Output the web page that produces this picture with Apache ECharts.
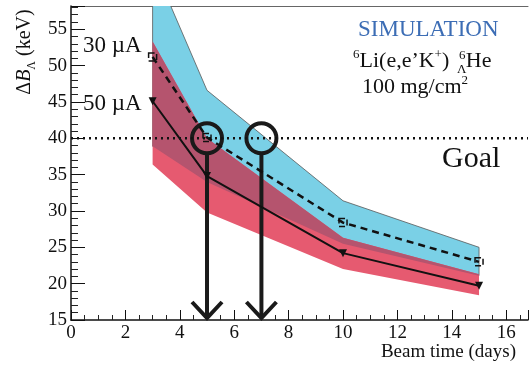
<!DOCTYPE html>
<html>
<head>
<meta charset="utf-8">
<script src="https://cdn.jsdelivr.net/npm/echarts@6/dist/echarts.min.js"></script>
<style>
  html, body { margin: 0; padding: 0; background: #fff; }
  #chart { width: 530px; height: 372px; }
</style>
</head>
<body>
<div id="chart"></div>
<script>
var myChart = echarts.init(document.getElementById("chart"));

// beam time points (days)
var days = [3, 5, 10, 15];
// 30 uA : central values and band
var res30 = [51.2, 40.1, 28.4, 23.0];
var band30Hi = [64.0, 46.6, 31.4, 25.0];
var band30Lo = [38.9, 34.0, 25.5, 21.1];
// 50 uA : central values and band
var res50 = [45.1, 34.8, 24.2, 19.7];
var band50Hi = [53.3, 40.0, 26.3, 21.3];
var band50Lo = [36.4, 29.8, 22.0, 18.4];
// goal resolution and the days where it is reached
var goal = 40;
var goalDays = [5, 7];

var xMin = 0, xMax = 16.8, yMin = 15, yMax = 58.2;
var serif = "Liberation Serif";

// overlap of both bands
var overHi = [], overLo = [];
for (var i = 0; i < days.length; i++) {
    overHi.push(Math.min(band30Hi[i], band50Hi[i]));
    overLo.push(Math.max(band30Lo[i], band50Lo[i]));
}

function band(lo, hi, color, stroke) {
    return {
        type: "custom",
        clip: true,
        silent: true,
        data: [[days[0], lo[0]]],
        renderItem: function (params, api) {
            var pts = [];
            for (var i = 0; i < days.length; i++) pts.push(api.coord([days[i], hi[i]]));
            for (var j = days.length - 1; j >= 0; j--) pts.push(api.coord([days[j], lo[j]]));
            return {
                type: "polygon",
                shape: { points: pts },
                style: { fill: color, stroke: stroke, lineWidth: stroke ? 1 : 0 }
            };
        }
    };
}

var tickText = { t: { fontFamily: serif, fontSize: 19, color: "#111" } };

myChart.setOption({
    animation: false,
    textStyle: { fontFamily: serif },
    grid: { left: 71, right: 2, top: 6, bottom: 52 },
    xAxis: [{
        type: "value",
        min: xMin, max: xMax, interval: 2,
        axisLine: { lineStyle: { color: "#111", width: 1.5 } },
        axisTick: { inside: true, length: 10, lineStyle: { color: "#111" } },
        minorTick: { show: true, splitNumber: 4, length: 5, lineStyle: { color: "#222" } },
        axisLabel: { formatter: "{t|{value}}", rich: tickText, fontFamily: serif, fontSize: 19, margin: 4, showMaxLabel: false },
        splitLine: { show: false }
    }, {
        type: "value",
        position: "top",
        min: xMin, max: xMax,
        axisLine: { show: true, lineStyle: { color: "#666", width: 1 } },
        axisTick: { show: false },
        axisLabel: { show: false },
        splitLine: { show: false }
    }],
    yAxis: {
        type: "value",
        min: yMin, max: yMax, interval: 5,
        axisLine: { show: true, lineStyle: { color: "#111", width: 1.5 } },
        axisTick: { inside: true, length: 14, lineStyle: { color: "#111" } },
        minorTick: { show: true, splitNumber: 5, length: 7, lineStyle: { color: "#222" } },
        axisLabel: { formatter: "{t|{value}}", rich: tickText, fontFamily: serif, fontSize: 19, margin: 4, showMaxLabel: false },
        splitLine: { show: false }
    },
    graphic: [
        {
            type: "text", x: 23, y: 52, rotation: Math.PI / 2,
            style: {
                text: "{n|Δ}{i|B}{s|Λ}{n| (keV)}",
                align: "center", verticalAlign: "middle",
                rich: {
                    n: { fontFamily: serif, fontSize: 20, fill: "#111", lineHeight: 24, verticalAlign: "bottom" },
                    i: { fontFamily: serif, fontSize: 20, fontStyle: "italic", fill: "#111", lineHeight: 24, verticalAlign: "bottom" },
                    s: { fontFamily: serif, fontSize: 12, fill: "#111", lineHeight: 12, verticalAlign: "bottom", padding: [0, 0, -3, 0] }
                }
            }
        },
        {
            type: "text", right: 14, top: 343,
            style: { text: "Beam time (days)", fontFamily: serif, fontSize: 19, fill: "#111" }
        },
        {
            type: "text", left: 83, top: 34,
            style: { text: "30 µA", fontFamily: serif, fontSize: 23, fill: "#111" }
        },
        {
            type: "text", left: 83, top: 92,
            style: { text: "50 µA", fontFamily: serif, fontSize: 23, fill: "#111" }
        },
        {
            type: "text", left: 358, top: 18,
            style: { text: "SIMULATION", fontFamily: serif, fontSize: 23, fill: "#3c6db5" }
        },
        {
            type: "text", left: 353, top: 48,
            style: {
                text: "{sp|6}{n|Li(e,e’K}{sp|+}{n|)   He}",
                rich: {
                    n: { fontFamily: serif, fontSize: 22, fill: "#111", lineHeight: 24, verticalAlign: "bottom" },
                    sp: { fontFamily: serif, fontSize: 13, fill: "#111", lineHeight: 24, verticalAlign: "top", padding: [0, 0, 8, 0] }
                }
            }
        },
        {
            type: "text", left: 459, top: 49,
            style: { text: "6", fontFamily: serif, fontSize: 13, fill: "#111" }
        },
        {
            type: "text", left: 457, top: 63,
            style: { text: "Λ", fontFamily: serif, fontSize: 13, fill: "#111" }
        },
        {
            type: "text", left: 362, top: 74,
            style: {
                text: "{n|100 mg/cm}{sp|2}",
                rich: {
                    n: { fontFamily: serif, fontSize: 22, fill: "#111", lineHeight: 24, verticalAlign: "bottom" },
                    sp: { fontFamily: serif, fontSize: 13, fill: "#111", lineHeight: 24, verticalAlign: "top", padding: [0, 0, 8, 0] }
                }
            }
        },
        {
            type: "text", left: 442, top: 144,
            style: { text: "Goal", fontFamily: serif, fontSize: 30, fill: "#111" }
        }
    ],
    series: [
        band(band30Lo, band30Hi, "#7ad0e6", "rgba(90,90,90,0.8)"),
        band(band50Lo, band50Hi, "#e65a70", null),
        band(overLo, overHi, "#b5546e", null),
        {
            type: "line",
            silent: true,
            symbol: "none",
            data: [[xMin, goal], [xMax, goal]],
            lineStyle: { color: "#111", width: 2.5, type: [2, 4] }
        },
        {
            name: "30 uA",
            type: "line",
            data: days.map(function (d, i) { return [d, res30[i]]; }),
            symbol: "rect",
            symbolSize: 8,
            itemStyle: { color: "transparent", borderColor: "#111", borderWidth: 1.5, borderType: "dashed" },
            lineStyle: { color: "#111", width: 2.5, type: [7, 5] }
        },
        {
            name: "50 uA",
            type: "line",
            data: days.map(function (d, i) { return [d, res50[i]]; }),
            symbol: "triangle",
            symbolRotate: 180,
            symbolSize: 8,
            itemStyle: { color: "#111" },
            lineStyle: { color: "#111", width: 2 }
        },
        {
            type: "custom",
            clip: false,
            silent: true,
            data: goalDays.map(function (d) { return [d, goal]; }),
            renderItem: function (params, api) {
                var c = api.coord([api.value(0), api.value(1)]);
                var b = api.coord([api.value(0), yMin]);
                var r = 15;
                var st = { fill: null, stroke: "#1a1a1a", lineWidth: 4 };
                return {
                    type: "group",
                    children: [
                        { type: "circle", shape: { cx: c[0], cy: c[1], r: r }, style: st },
                        { type: "line", shape: { x1: c[0], y1: c[1] + r, x2: b[0], y2: b[1] - 2 }, style: st },
                        { type: "polyline", shape: { points: [[b[0] - 15, b[1] - 18], [b[0], b[1] - 2], [b[0] + 15, b[1] - 18]] }, style: st }
                    ]
                };
            }
        }
    ]
});
</script>
</body>
</html>
